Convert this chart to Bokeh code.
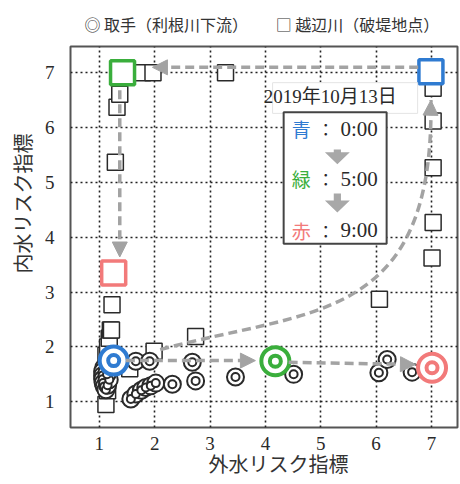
from bokeh.plotting import figure
from bokeh.models import Range1d, FixedTicker, Arrow, NormalHead, Title
from bokeh.embed import file_html
from bokeh.resources import INLINE
from bokeh.core.properties import value

# ---------------- data ----------------
ticks = [1, 2, 3, 4, 5, 6, 7]
x_title = "外水リスク指標"
y_title = "内水リスク指標"
series_names = ["取手（利根川下流）", "越辺川（破堤地点）"]

# 取手（利根川下流）  (x: 外水リスク指標, y: 内水リスク指標)
tor_x = [1.08, 1.06, 1.06, 1.06, 1.07, 1.09, 1.12, 1.15, 1.18, 1.14,
         1.66, 1.91, 2.68, 1.57, 1.66, 1.76, 1.84, 1.93, 2.02, 2.32,
         2.74, 3.46, 4.51, 6.05, 6.20, 6.65]
tor_y = [1.62, 1.55, 1.48, 1.41, 1.34, 1.28, 1.22, 1.30, 1.40, 1.50,
         1.74, 1.74, 1.72, 1.05, 1.14, 1.21, 1.26, 1.29, 1.34, 1.32,
         1.38, 1.45, 1.50, 1.53, 1.77, 1.54]

# 越辺川（破堤地点）
oppe_x = [1.12, 1.15, 1.12, 1.12, 1.12, 1.15, 1.18, 1.20, 1.22, 1.23,
          1.55, 1.99, 2.74, 1.29, 1.32, 1.37, 1.78, 1.97, 3.28,
          6.06, 7.01, 7.03, 7.03, 7.03, 7.03]
oppe_y = [0.95, 1.20, 1.40, 1.60, 1.85, 2.00, 2.16, 2.31, 2.31, 2.77,
          1.60, 1.92, 2.19, 5.37, 6.37, 6.61, 7.00, 7.00, 7.00,
          2.87, 3.62, 4.27, 5.27, 6.12, 6.72]

# highlighted times (2019年10月13日)
date_text = "2019年10月13日"
time_names = ["青", "緑", "赤"]
time_labels = ["0:00", "5:00", "9:00"]
time_colors = ["#2f7bd1", "#3aae3c", "#f27a7a"]
tor_hx = [1.26, 4.18, 7.01]
tor_hy = [1.75, 1.74, 1.62]
oppe_hx = [6.99, 1.42, 1.26]
oppe_hy = [7.02, 7.00, 3.35]

# trajectory arrows (start x, start y, end x, end y)
traj_straight = [
    (6.76, 7.10, 1.96, 7.10),
    (1.37, 6.68, 1.37, 3.64),
    (1.48, 1.75, 3.82, 1.75),
    (4.42, 1.72, 6.71, 1.68),
]
# curved trajectory (cubic bezier: start, control 1, control 2, end)
traj_curve = [(2.10, 1.95), (4.80, 2.70), (7.05, 2.40), (6.99, 6.50)]

GREY = "#a3a3a3"
INK = "#2a2a2a"
JP = value("Noto Sans CJK JP")
SERIF = value("Liberation Serif")
MIXED = value("'Liberation Serif', 'Noto Sans CJK JP'")

# ---------------- main plot ----------------
p = figure(width=460, height=484, output_backend="svg", toolbar_location=None,
           x_range=Range1d(0.48, 7.47), y_range=Range1d(0.53, 7.48),
           min_border_left=70, min_border_right=3, min_border_top=43,
           min_border_bottom=57)
p.outline_line_color = "#555555"
p.outline_line_width = 2
p.background_fill_color = "white"

for ax in (p.xaxis[0], p.yaxis[0]):
    ax.ticker = FixedTicker(ticks=ticks)
    ax.axis_line_color = None
    ax.major_tick_line_color = None
    ax.minor_tick_line_color = None
    ax.major_label_text_font = "Liberation Serif"
    ax.major_label_text_font_size = "19px"
    ax.major_label_text_color = INK
p.xaxis.major_label_standoff = 3
p.yaxis.major_label_standoff = 10
p.yaxis.major_label_orientation = "horizontal"

p.grid.grid_line_color = "#222222"
p.grid.grid_line_dash = "2 3"
p.grid.grid_line_width = 1.6

# legend line and axis titles
legend_text = "◎  " + series_names[0] + "　　  □ " + series_names[1]
p.add_layout(Title(text=legend_text, align="left", offset=14, standoff=20,
                   vertical_align="middle", text_font="Noto Sans CJK JP",
                   text_font_size="16px", text_font_style="normal",
                   text_color="#333"), "above")
p.add_layout(Title(text=x_title, align="left", offset=138, standoff=-10,
                   vertical_align="middle", text_font="Noto Sans CJK JP",
                   text_font_size="20px", text_font_style="normal",
                   text_color="#333"), "below")
p.add_layout(Title(text=y_title, align="left", offset=154, standoff=8,
                   vertical_align="middle", text_font="Noto Sans CJK JP",
                   text_font_size="20px", text_font_style="normal",
                   text_color="#333"), "left")

# ordinary points
p.scatter(oppe_x, oppe_y, marker="square", size=16, fill_color="white",
          line_color=INK, line_width=1.5)
p.scatter(tor_x, tor_y, marker="circle", size=17, fill_color="white",
          line_color=INK, line_width=2)
p.scatter(tor_x, tor_y, marker="circle", size=8, fill_color="white",
          line_color=INK, line_width=2)

# curved trajectory
(c0, c1, c2, c3) = traj_curve
p.bezier(x0=[c0[0]], y0=[c0[1]], cx0=[c1[0]], cy0=[c1[1]],
         cx1=[c2[0]], cy1=[c2[1]], x1=[c3[0]], y1=[c3[1]],
         line_color=GREY, line_width=3.5, line_dash="9 5")
p.add_layout(Arrow(x_start=c3[0] - 0.005, y_start=c3[1] - 0.2,
                   x_end=c3[0], y_end=c3[1], line_alpha=0,
                   end=NormalHead(size=15, fill_color=GREY, line_color=GREY)))

for (xs, ys, xe, ye) in traj_straight:
    p.add_layout(Arrow(x_start=xs, y_start=ys, x_end=xe, y_end=ye,
                       line_color=GREY, line_width=3.5, line_dash="9 5",
                       end=NormalHead(size=15, fill_color=GREY, line_color=GREY)))

# highlighted points
p.scatter(oppe_hx, oppe_hy, marker="square", size=24, fill_color="white",
          line_color=time_colors, line_width=3.5)
p.scatter(tor_hx, tor_hy, marker="circle", size=28, fill_color="white",
          line_color=time_colors, line_width=4)
p.scatter(tor_hx, tor_hy, marker="circle", size=11, fill_color="white",
          line_color=time_colors, line_width=4)

# date label
p.quad(left=[4.13], right=[6.75], bottom=[6.26], top=[6.82],
       fill_color="white", line_color="#e4e4e4", line_width=1)
p.text([5.17], [6.56], text=[date_text], text_font=MIXED,
       text_font_size="19px", text_color=INK, text_align="center",
       text_baseline="middle")

# time box
p.quad(left=[4.33], right=[6.19], bottom=[3.88], top=[6.28],
       fill_color="white", line_color="#444444", line_width=2)
row_y = [5.98, 5.07, 4.13]
p.text([4.65] * 3, row_y, text=time_names, text_font=JP,
       text_font_size="19px", text_color=time_colors,
       text_align="center", text_baseline="middle")
p.text([5.09] * 3, row_y, text=["：", "：", "："], text_font=JP,
       text_font_size="17px", text_color=INK,
       text_align="center", text_baseline="middle")
p.text([6.03] * 3, row_y, text=time_labels, text_font=SERIF,
       text_font_size="21px", text_color=INK,
       text_align="right", text_baseline="middle")

# block arrows between rows
ax_c = 5.30
shaft = 0.065
head = 0.225
xs_list, ys_list = [], []
for (y_top, y_bot) in [(5.60, 5.33), (4.80, 4.45)]:
    y_mid = y_bot + 0.22
    xs_list.append([ax_c - shaft, ax_c + shaft, ax_c + shaft, ax_c + head,
                    ax_c, ax_c - head, ax_c - shaft])
    ys_list.append([y_top, y_top, y_mid, y_mid, y_bot, y_mid, y_mid])
p.patches(xs_list, ys_list, fill_color="#a8a8a8", line_color=None)

open("out.html", "w").write(file_html(p, INLINE))
